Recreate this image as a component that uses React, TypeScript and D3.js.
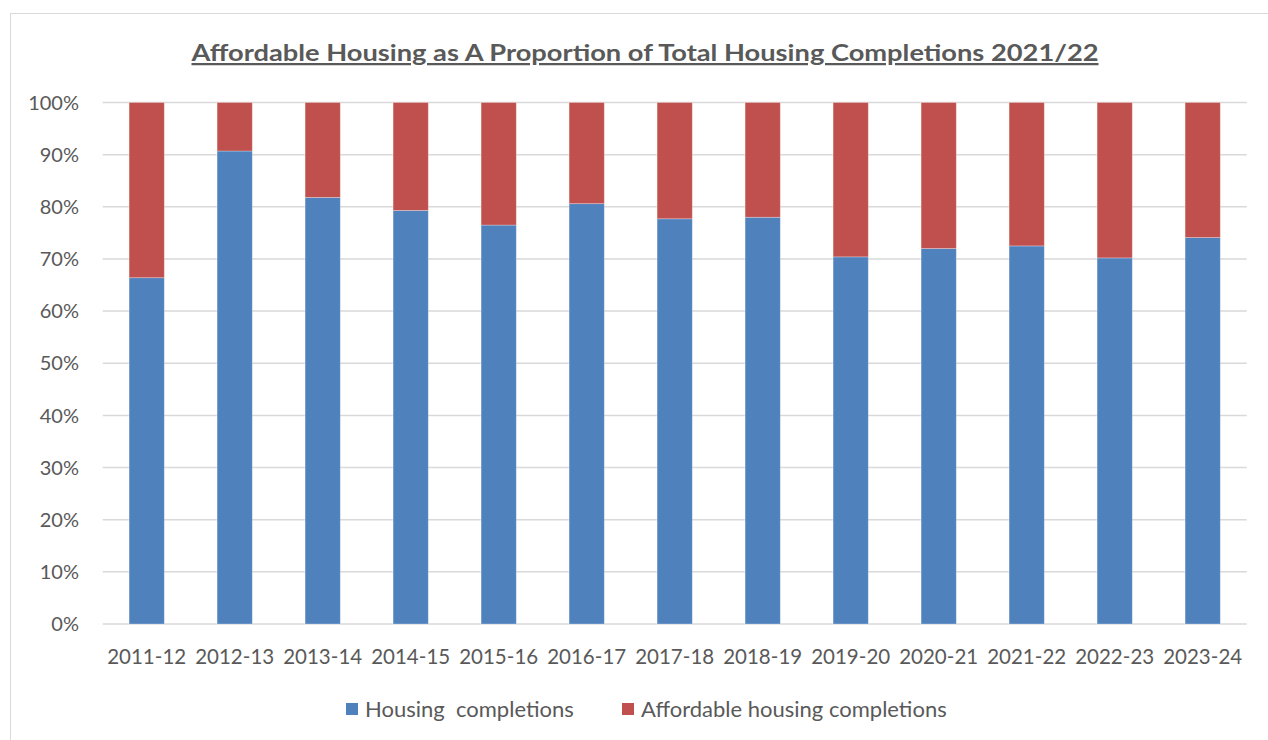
import React, { useEffect, useRef } from 'react';
import * as d3 from 'd3';

const years = ['2011-12', '2012-13', '2013-14', '2014-15', '2015-16', '2016-17', '2017-18', '2018-19', '2019-20', '2020-21', '2021-22', '2022-23', '2023-24'];
const housingShare = [0.664, 0.907, 0.818, 0.793, 0.765, 0.806, 0.777, 0.78, 0.704, 0.72, 0.725, 0.702, 0.741];
const affordableShare = housingShare.map((v) => 1 - v);
const yTicks = [0, 0.1, 0.2, 0.3, 0.4, 0.5, 0.6, 0.7, 0.8, 0.9, 1];
const seriesNames = ['Housing  completions', 'Affordable housing completions'];
const seriesColors = ['#4F81BD', '#C0504D'];

const App = () => {
  const ref = useRef(null);

  useEffect(() => {
    const svg = d3.select(ref.current);
    svg.selectAll('*').remove();

    const font = 'Lato, Carlito, "Open Sans", sans-serif';
    const textColor = '#595959';

    // chart frame
    svg.append('rect')
      .attr('x', 10.5).attr('y', 13.5)
      .attr('width', 1300).attr('height', 800)
      .attr('fill', 'white')
      .attr('stroke', '#D9D9D9')
      .attr('stroke-width', 1);

    svg.append('text')
      .attr('x', 645).attr('y', 61)
      .attr('text-anchor', 'middle')
      .attr('font-family', font)
      .attr('font-weight', 'bold')
      .attr('font-size', 22.5)
      .attr('fill', textColor)
      .attr('text-decoration', 'underline')
      .attr('textLength', 907)
      .attr('lengthAdjust', 'spacingAndGlyphs')
      .text('Affordable Housing as A Proportion of Total Housing Completions 2021/22');

    const x = d3.scaleBand().domain(years).range([102.7, 1246.7]).paddingInner(0.6).paddingOuter(0.3);
    const y = d3.scaleLinear().domain([0, 1]).range([624, 102.5]);

    // gridlines
    svg.append('g')
      .selectAll('line')
      .data(yTicks)
      .join('line')
      .attr('x1', 102.7).attr('x2', 1246.7)
      .attr('y1', (d) => y(d)).attr('y2', (d) => y(d))
      .attr('stroke', '#D9D9D9')
      .attr('stroke-width', 1.5);

    // y tick labels
    svg.append('g')
      .selectAll('text')
      .data(yTicks)
      .join('text')
      .attr('x', 79)
      .attr('y', (d) => y(d))
      .attr('dy', '0.36em')
      .attr('text-anchor', 'end')
      .attr('font-family', font)
      .attr('font-size', 20)
      .attr('fill', textColor)
      .text((d) => d3.format('.0%')(d));

    // stacked bars
    const rows = years.map((yr, i) => ({ year: yr, housing: housingShare[i], affordable: affordableShare[i] }));
    const stack = d3.stack().keys(['housing', 'affordable'])(rows as any);

    svg.append('g')
      .selectAll('g')
      .data(stack)
      .join('g')
      .attr('fill', (d, i) => seriesColors[i])
      .selectAll('rect')
      .data((d) => d)
      .join('rect')
      .attr('x', (d: any) => x(d.data.year))
      .attr('y', (d) => y(d[1]))
      .attr('width', x.bandwidth())
      .attr('height', (d) => y(d[0]) - y(d[1]))
      .attr('stroke', 'rgba(255,255,255,0.35)')
      .attr('stroke-width', 0.8);

    // x tick labels
    svg.append('g')
      .selectAll('text')
      .data(years)
      .join('text')
      .attr('x', (d) => x(d) + x.bandwidth() / 2)
      .attr('y', 664)
      .attr('text-anchor', 'middle')
      .attr('font-family', font)
      .attr('font-size', 20.5)
      .attr('fill', textColor)
      .text((d) => d);

    // legend
    const legendX = [346, 622];
    const legend = svg.append('g')
      .selectAll('g')
      .data(seriesNames)
      .join('g')
      .attr('transform', (d, i) => `translate(${legendX[i]}, 709)`);
    legend.append('rect')
      .attr('x', 0).attr('y', -6)
      .attr('width', 12).attr('height', 12)
      .attr('fill', (d, i) => seriesColors[i]);
    legend.append('text')
      .attr('x', 19).attr('y', 0)
      .attr('dy', '0.36em')
      .attr('font-family', font)
      .attr('font-size', 22)
      .attr('fill', textColor)
      .style('white-space', 'pre')
      .text((d) => d);
  }, []);

  return (
    <svg
      ref={ref}
      width={1268}
      height={740}
      style={{ position: 'absolute', left: 0, top: 0, background: 'white' }}
    />
  );
};

export default App;
